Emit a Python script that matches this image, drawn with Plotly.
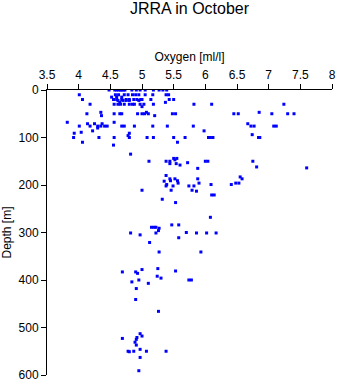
import plotly.graph_objects as go

# (depth, oxygen values at that depth)
rows = [
    (0,   [4.48, 4.57, 4.60, 4.63, 4.66, 4.68, 4.71, 4.73, 4.84, 4.91, 4.97, 5.05, 5.18, 5.27, 5.33, 5.39]),
    (10,  [4.01, 4.58, 4.63, 4.72, 4.78, 4.85, 4.90, 4.95, 5.05, 5.17, 5.38, 5.42]),
    (15,  [4.52, 4.60, 4.68]),
    (20,  [4.06, 4.55, 4.60, 4.68, 4.75, 4.80, 4.87, 4.92, 4.98, 5.00, 5.14, 5.43, 5.50]),
    (22,  [4.62, 4.70, 4.75, 4.80, 4.95]),
    (26,  [4.65, 5.37]),
    (30,  [4.18, 4.56, 4.62, 4.66, 4.72, 4.80, 4.85, 4.88, 4.97, 5.03, 5.18, 5.82, 6.10, 7.24]),
    (35,  [5.00]),
    (47,  [4.35, 5.07, 6.85]),
    (50,  [4.13, 4.56, 4.65, 4.68, 4.93, 5.00, 5.04, 5.10, 5.48, 5.53, 6.45, 6.52, 7.05, 7.30, 7.40]),
    (54,  [4.36, 5.20]),
    (68,  [3.82, 4.56]),
    (71,  [4.14, 4.25, 4.37, 6.67]),
    (76,  [4.01, 4.18, 4.30, 4.35, 4.41, 4.45, 4.68, 4.72, 4.88, 5.17, 5.40, 5.81, 6.72, 6.77, 7.08, 7.12]),
    (80,  [4.30]),
    (86,  [4.22, 5.98]),
    (89,  [4.04]),
    (91,  [3.93, 4.80]),
    (94,  [6.74]),
    (96,  [4.78]),
    (100, [3.92, 4.32, 4.56, 4.80, 5.08, 5.18, 5.50, 5.68, 6.05, 6.08, 6.12, 6.84, 6.86]),
    (110, [4.06, 5.56]),
    (116, [4.55]),
    (135, [4.82]),
    (144, [5.50, 5.55]),
    (147, [5.52]),
    (150, [5.11, 5.38, 5.44, 6.00, 6.04, 6.75]),
    (153, [5.72]),
    (155, [5.44, 5.54]),
    (158, [5.60]),
    (162, [6.81]),
    (164, [7.60]),
    (165, [5.88]),
    (180, [5.38]),
    (183, [6.55]),
    (187, [5.44, 5.52, 5.88, 6.58]),
    (191, [5.45, 5.56]),
    (192, [5.35]),
    (196, [5.57, 5.90, 6.48, 6.53]),
    (199, [5.39, 6.09, 6.41]),
    (202, [5.38, 5.49, 5.74, 5.82]),
    (211, [5.00, 5.46, 5.79]),
    (213, [5.86]),
    (221, [6.10, 6.14]),
    (230, [5.32]),
    (237, [5.53]),
    (268, [6.08]),
    (284, [5.47, 5.58]),
    (289, [5.15, 5.19, 5.22]),
    (291, [5.27]),
    (296, [5.26]),
    (300, [5.70]),
    (301, [4.82, 5.22, 5.86, 6.02, 6.17]),
    (305, [4.97]),
    (311, [5.58]),
    (321, [5.12]),
    (341, [5.27, 5.93]),
    (376, [5.25]),
    (378, [5.00]),
    (381, [5.53]),
    (383, [4.69, 4.90]),
    (386, [4.93]),
    (392, [5.24]),
    (396, [5.30]),
    (400, [4.95, 5.74, 5.78]),
    (404, [4.84]),
    (407, [5.10]),
    (418, [4.91]),
    (441, [4.90]),
    (466, [5.26]),
    (513, [4.97]),
    (518, [5.00]),
    (521, [4.92]),
    (523, [4.69]),
    (525, [4.91]),
    (531, [4.89]),
    (537, [4.91]),
    (546, [4.97]),
    (550, [4.78, 4.87, 5.07, 5.38]),
    (551, [4.80]),
    (563, [4.97]),
    (591, [4.95]),
]

oxygen = [o for d, vals in rows for o in vals]
depth = [d for d, vals in rows for o in vals]

x_ticks = [3.5, 4, 4.5, 5, 5.5, 6, 6.5, 7, 7.5, 8]
y_ticks = [0, 100, 200, 300, 400, 500, 600]

fig = go.Figure()
fig.add_trace(go.Scatter(
    x=oxygen, y=depth, mode="markers",
    marker=dict(symbol="square", size=3, color="#0000ff", line=dict(width=0)),
    showlegend=False, hoverinfo="skip",
))

font = "Liberation Sans, Arial, Helvetica, sans-serif"
fig.update_layout(
    width=338, height=384,
    margin=dict(l=47, r=6, t=90, b=9),
    paper_bgcolor="white", plot_bgcolor="white",
    font=dict(family=font, size=12, color="black"),
    title=dict(text="JRRA in October", x=189.5 / 338, xanchor="center", y=0.978, yanchor="middle",
               font=dict(size=16, family=font, color="black")),
    xaxis=dict(
        side="top", range=[3.5, 8], tickvals=x_ticks, ticktext=[f"{v:g}" for v in x_ticks],
        showgrid=False, zeroline=False, showline=True, linecolor="black", linewidth=1,
        ticks="outside", ticklen=5, tickcolor="black", automargin=False,
        title=dict(text="Oxygen [ml/l]", standoff=4, font=dict(size=12)),
    ),
    yaxis=dict(
        range=[600, 0], tickvals=y_ticks,
        showgrid=False, zeroline=False, showline=True, linecolor="black", linewidth=1,
        ticks="outside", ticklen=5, tickcolor="black", automargin=False,
        title=dict(text="Depth [m]", standoff=4, font=dict(size=12)),
    ),
)

fig.write_html("out.html")
